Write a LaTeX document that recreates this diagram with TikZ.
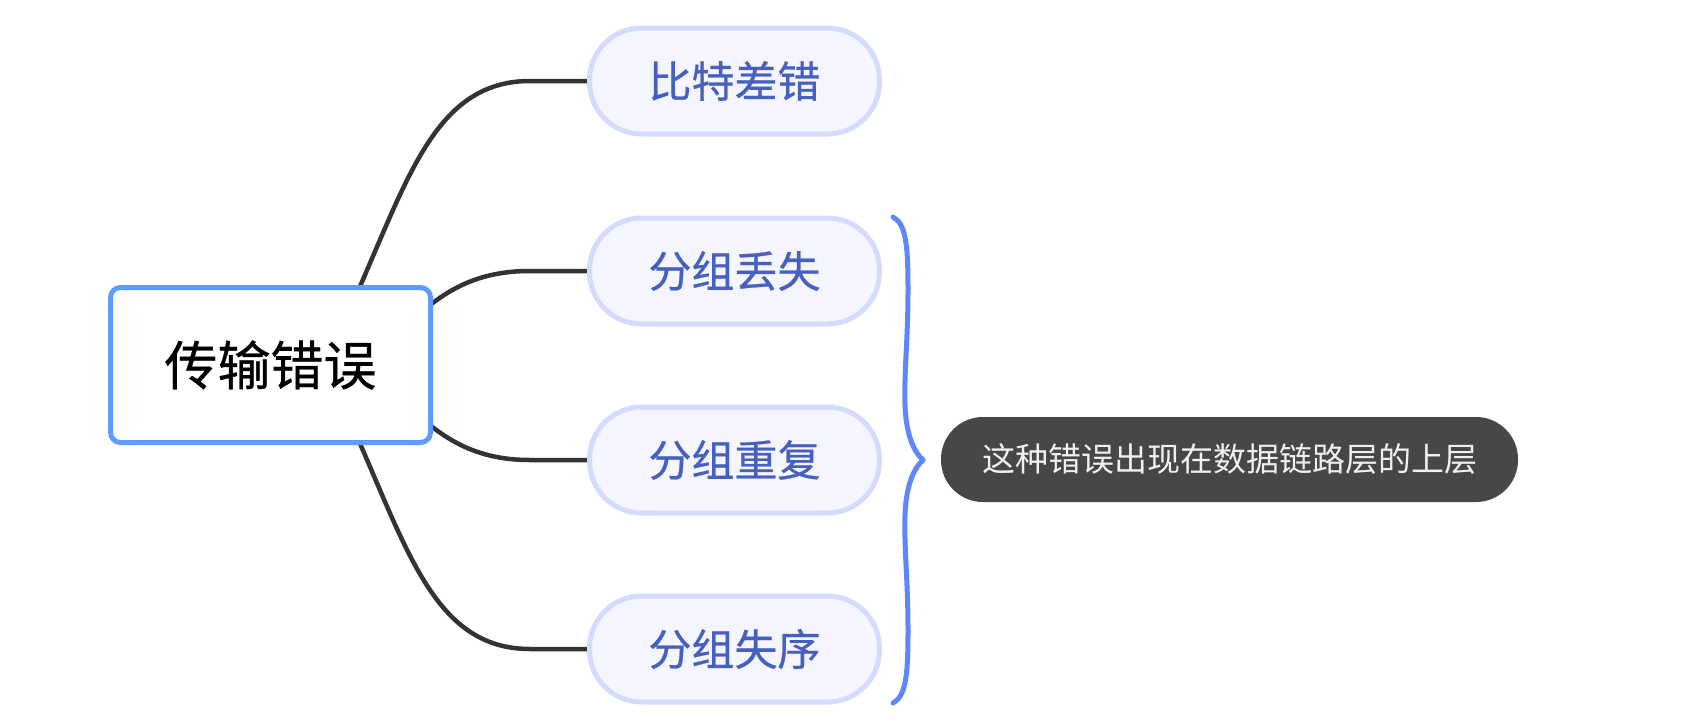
\documentclass[tikz,border=0pt]{standalone}
\usepackage{fontspec}
\newfontfamily\cjk{Noto Sans CJK SC}[FakeBold=0.6]
\newfontfamily\cjknote{Noto Sans CJK SC}
\definecolor{rootblue}{HTML}{5C9DFF}
\definecolor{leafedge}{HTML}{D3DBFF}
\definecolor{leaffill}{HTML}{F4F5FF}
\definecolor{leaftext}{HTML}{4760C0}
\definecolor{linkgray}{HTML}{333333}
\definecolor{braceblue}{HTML}{5F86FF}
\definecolor{notegray}{HTML}{474747}
\definecolor{notetext}{HTML}{F0F0F0}
\pgfdeclarelayer{links}
\pgfsetlayers{links,main}
\tikzset{
  rootbox/.style={draw=rootblue, line width=5pt, fill=white, rounded corners=10pt,
    minimum width=320pt, minimum height=155pt, inner sep=0pt, text=black,
    font=\cjk\fontsize{53}{63}\selectfont},
  leaf/.style={draw=leafedge, fill=leaffill, line width=5pt, rounded corners=52pt,
    minimum width=290pt, minimum height=106pt, inner sep=0pt, text=leaftext,
    font=\cjk\fontsize{43}{51}\selectfont},
  note/.style={fill=notegray, rounded corners=42pt, minimum width=577pt,
    minimum height=85pt, inner sep=0pt, text=notetext,
    font=\cjknote\fontsize{33}{39}\selectfont},
  link/.style={draw=linkgray, line width=4.5pt},
  bracemark/.style={draw=braceblue, line width=5pt, line cap=round, line join=round},
}
\begin{document}
\begin{tikzpicture}[x=1pt, y=-1pt]
\useasboundingbox (0,0) rectangle (1708,728);

% central topic and its four subtopics
\node[rootbox] (root) at (270.5,365) {传输错误};
\node[leaf] (bit)  at (734.5,81)  {比特差错};
\node[leaf] (loss) at (734.5,271) {分组丢失};
\node[leaf] (dup)  at (734.5,460) {分组重复};
\node[leaf] (ord)  at (734.5,649) {分组失序};

% summary label
\node[note] (sum) at (1229.5,459.5) {这种错误出现在数据链路层的上层};

% curve start points, hidden under the central box
\coordinate (s1) at (345,320);
\coordinate (s2) at (395,335);
\coordinate (s3) at (395,395);
\coordinate (s4) at (345,410);
\coordinate (j1) at (530,81);
\coordinate (j2) at (530,271);
\coordinate (j3) at (530,460);
\coordinate (j4) at (530,649);

\begin{pgfonlayer}{links}
\draw[link] (s1) .. controls (405,190) and (430,81) .. (j1) -- (bit.west);
\draw[link] (s2) .. controls (430,305) and (460,271) .. (j2) -- (loss.west);
\draw[link] (s3) .. controls (430,425) and (460,460) .. (j3) -- (dup.west);
\draw[link] (s4) .. controls (405,540) and (430,649) .. (j4) -- (ord.west);
\end{pgfonlayer}

% brace grouping the last three subtopics
\coordinate (btop) at (893,217);
\coordinate (btip) at (923,460);
\coordinate (bbot) at (893,703);
\draw[bracemark] (btop)
  .. controls (906,224) and (908,245) .. (908,290)
  .. controls (908,340) and (904,370) .. (905,405)
  .. controls (906,435) and (914,452) .. (btip)
  .. controls (914,468) and (906,485) .. (905,515)
  .. controls (904,550) and (908,580) .. (908,630)
  .. controls (908,675) and (906,696) .. (bbot);
\end{tikzpicture}
\end{document}
